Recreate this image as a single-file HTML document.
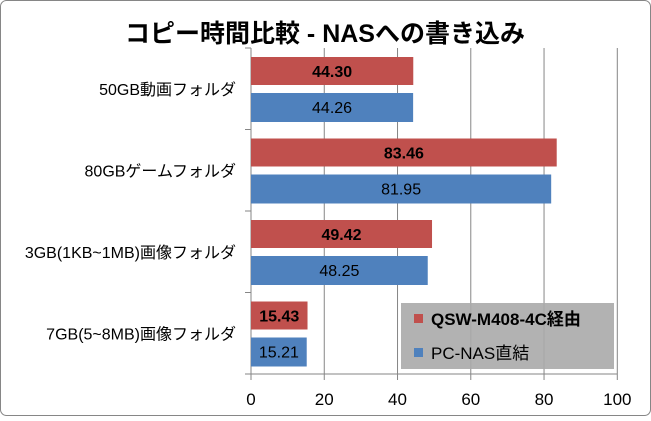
<!DOCTYPE html>
<html><head><meta charset="utf-8"><style>
body{margin:0;background:#fff;}
svg text{font-family:"Liberation Sans","Noto Sans CJK JP",sans-serif;}
</style></head><body>
<svg id="chart" width="651" height="416" viewBox="0 0 651 416" xmlns="http://www.w3.org/2000/svg">
<rect x="0.5" y="0.5" width="650" height="415" rx="6" fill="#fff" stroke="#868686"/>
<text x="325" y="42" text-anchor="middle" font-size="25" font-weight="bold" fill="#000">コピー時間比較 - NASへの書き込み</text>
<g id="grid"></g>
<g id="bars"></g>
<g id="labels"></g>
<g>
<rect x="401" y="303" width="213" height="66" fill="#aaaaaa" fill-opacity="0.9"/>
<rect x="414" y="314" width="9" height="9" fill="#c0504d"/>
<text x="431" y="325" font-size="17" font-weight="bold" fill="#000">QSW-M408-4C経由</text>
<rect x="414" y="348" width="9" height="9" fill="#4f81bd"/>
<text x="431" y="359" font-size="17" fill="#000">PC-NAS直結</text>
</g>
</svg>
<script>
const categories=["50GB動画フォルダ","80GBゲームフォルダ","3GB(1KB~1MB)画像フォルダ","7GB(5~8MB)画像フォルダ"];
const qswValues=[44.30,83.46,49.42,15.43];
const directValues=[44.26,81.95,48.25,15.21];
const tickValues=[0,20,40,60,80,100];
const NS="http://www.w3.org/2000/svg";
const x0=251,x1=617.3,yTop=48,yBot=374;
const xs=v=>x0+(v-0)/(100-0)*(x1-x0);
const band=(yBot-yTop)/categories.length;
function mk(tag,attrs,parent){const e=document.createElementNS(NS,tag);for(const k in attrs)e.setAttribute(k,attrs[k]);parent.appendChild(e);return e;}
const grid=document.getElementById('grid'),bars=document.getElementById('bars'),labels=document.getElementById('labels');
tickValues.forEach(t=>{
  const x=xs(t);
  const l=mk('line',{x1:x,x2:x,y1:yTop,y2:yBot+6,stroke:'#868686','stroke-width':1},grid);
  
  
  const tx=mk('text',{x:x,y:405,'text-anchor':'middle','font-size':17,fill:'#000'},labels);
  
  
  tx.textContent=t;
});
const ax=mk('line',{x1:x0,x2:x0,y1:yTop,y2:yBot,stroke:'#868686'},grid);


const bx=mk('line',{x1:x0-6,x2:x1,y1:yBot,y2:yBot,stroke:'#868686'},grid);


for(let i=0;i<=categories.length;i++){
  const tk=mk('line',{x1:x0-6,x2:x0,y1:yTop+i*band,y2:yTop+i*band,stroke:'#868686'},grid);
  
  
}
categories.forEach((c,i)=>{
  const by=yTop+i*band;
  const r=mk('rect',{x:x0,y:by+9,width:xs(qswValues[i])-x0,height:28,fill:'#c0504d'},bars);
  
  
  const b=mk('rect',{x:x0,y:by+45,width:xs(directValues[i])-x0,height:29,fill:'#4f81bd'},bars);
  
  
  const t1=mk('text',{x:(x0+xs(qswValues[i]))/2,y:by+29,'text-anchor':'middle','font-size':16,'font-weight':'bold',fill:'#000'},labels);
  
  
  t1.textContent=qswValues[i].toFixed(2);
  const t2=mk('text',{x:(x0+xs(directValues[i]))/2,y:by+65,'text-anchor':'middle','font-size':16,fill:'#000'},labels);
  
  
  t2.textContent=directValues[i].toFixed(2);
  const cl=mk('text',{x:236,y:by+band/2+6,'text-anchor':'end','font-size':16,fill:'#000'},labels);
  
  
  cl.textContent=c;
});
</script>
</body></html>
